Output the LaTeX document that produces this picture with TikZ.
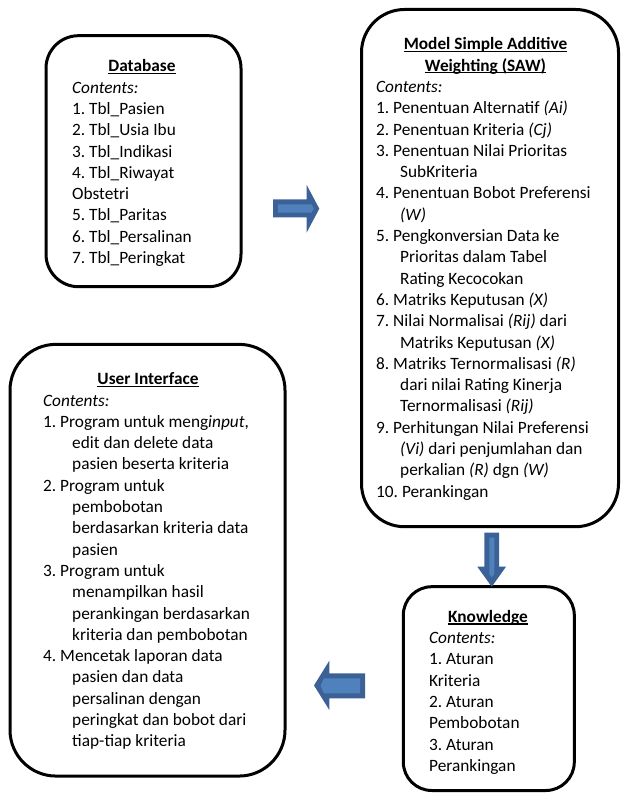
\documentclass[tikz,border=0pt]{standalone}
\usepackage{fontspec}
\setmainfont{Carlito}
\frenchspacing
\definecolor{arrowdark}{HTML}{3B6196}
\definecolor{arrowlight}{HTML}{4F81BD}
\newsavebox\ulbox
\newcommand{\ulin}[1]{\sbox\ulbox{#1}\rlap{\rule[-2.3pt]{\wd\ulbox}{1.1pt}}\usebox\ulbox}
\newcommand{\hi}[1]{\hspace*{#1}}
\newcommand{\bodytext}[1]{\parbox[t]{320pt}{\fontsize{17.3pt}{21.3pt}\selectfont\frenchspacing #1}}
\begin{document}
\begin{tikzpicture}[x=1pt,y=-1pt,
  font=\fontsize{17.3pt}{21.3pt}\selectfont,
  box/.style={draw=black, line width=3pt, inner sep=0pt},
  ttl/.style={anchor=base, inner sep=0pt, font=\fontsize{17.3pt}{21.3pt}\selectfont\bfseries},
  body/.style={anchor=base west, inner sep=0pt},
  arrdark/.style={fill=arrowdark, draw=none},
  arrlight/.style={fill=arrowlight, draw=none}]
\useasboundingbox (0,0) rectangle (621,794);

% boxes
\node[box, rounded corners=32.5pt, minimum width=195pt, minimum height=251pt] (db) at (143.5,161.2) {};
\node[box, rounded corners=43pt, minimum width=257pt, minimum height=517.2pt] (saw) at (490,268.1) {};
\node[box, rounded corners=46pt, minimum width=275pt, minimum height=431.7pt] (ui) at (147.5,560.2) {};
\node[box, rounded corners=28.5pt, minimum width=171pt, minimum height=203.8pt] (kn) at (488.8,688.6) {};

% Database
\node[ttl] (dbt) at (142,71.5) {\ulin{Database}};
\node[body] (dbb) at (72,93.2) {\bodytext{%
\textit{Contents:}\\
1. Tbl\_Pasien\\
2. Tbl\_Usia Ibu\\
3. Tbl\_Indikasi\\
4. Tbl\_Riwayat\\
Obstetri\\
5. Tbl\_Paritas\\
6. Tbl\_Persalinan\\
7. Tbl\_Peringkat}};

% SAW
\node[ttl] (sawt1) at (485.5,49.9) {\ulin{Model Simple Additive}};
\node[ttl] (sawt2) at (485.5,71.2) {\ulin{Weighting (SAW)}};
\node[body] (sawb) at (376,92.5) {\bodytext{%
\textit{Contents:}\\
1. Penentuan Alternatif \textit{(Ai)}\\
2. Penentuan Kriteria \textit{(Cj)}\\
3. Penentuan Nilai Prioritas\\
\hi{24pt}SubKriteria\\
4. Penentuan Bobot Preferensi\\
\hi{24pt}\textit{(W)}\\
5. Pengkonversian Data ke\\
\hi{24pt}Prioritas dalam Tabel\\
\hi{24pt}Rating Kecocokan\\
6. Matriks Keputusan \textit{(X)}\\
7. Nilai Normalisai \textit{(Rij)} dari\\
\hi{24pt}Matriks Keputusan \textit{(X)}\\
8. Matriks Ternormalisasi \textit{(R)}\\
\hi{24pt}dari nilai Rating Kinerja\\
\hi{24pt}Ternormalisasi \textit{(Rij)}\\
9. Perhitungan Nilai Preferensi\\
\hi{24pt}\textit{(Vi)} dari penjumlahan dan\\
\hi{24pt}perkalian \textit{(R)} dgn \textit{(W)}\\
10. Perankingan}};

% User Interface
\node[ttl] (uit) at (148,384.7) {\ulin{User Interface}};
\node[body] (uib) at (43,406) {\bodytext{%
\textit{Contents:}\\
1. Program untuk meng\textit{input},\\
\hi{29pt}edit dan delete data\\
\hi{29pt}pasien beserta kriteria\\
2. Program untuk\\
\hi{29pt}pembobotan\\
\hi{29pt}berdasarkan kriteria data\\
\hi{29pt}pasien\\
3. Program untuk\\
\hi{29pt}menampilkan hasil\\
\hi{29pt}perankingan berdasarkan\\
\hi{29pt}kriteria dan pembobotan\\
4. Mencetak laporan data\\
\hi{29pt}pasien dan data\\
\hi{29pt}persalinan dengan\\
\hi{29pt}peringkat dan bobot dari\\
\hi{29pt}tiap-tiap kriteria}};

% Knowledge
\node[ttl] (knt) at (488,622.2) {\ulin{Knowledge}};
\node[body] (knb) at (429,643.5) {\bodytext{%
\textit{Contents:}\\
1. Aturan\\
Kriteria\\
2. Aturan\\
Pembobotan\\
3. Aturan\\
Perankingan}};

% block arrows
% right arrow (Database -> SAW)
\path[arrdark] (273,199.3) -- (306.7,199.3) -- (306.7,185) -- (319.3,208.7) -- (306.7,232.5) -- (306.7,217.3) -- (273,217.3) -- cycle;
\path[arrlight] (278,204.3) -- (311.5,204.3) -- (313.8,208.5) -- (311.5,212.7) -- (278,212.7) -- cycle;
% down arrow (SAW -> Knowledge)
\path[arrdark] (484.3,532.7) -- (499,532.7) -- (499,566.7) -- (506,566.7) -- (491.7,586.7) -- (477.3,566.7) -- (484.3,566.7) -- cycle;
\path[arrlight] (489.3,537.5) -- (494.3,537.5) -- (494.3,574) -- (491.8,577.5) -- (489.3,574) -- cycle;
% left arrow (Knowledge -> User Interface)
\path[arrdark] (314,685.4) -- (329.3,660.7) -- (329.3,673.3) -- (365,673.3) -- (365,698.3) -- (329.3,698.3) -- (329.3,710) -- cycle;
\path[arrlight] (320.5,685.8) -- (324,678.3) -- (360,678.3) -- (360,693.3) -- (324,693.3) -- cycle;
\end{tikzpicture}
\end{document}
